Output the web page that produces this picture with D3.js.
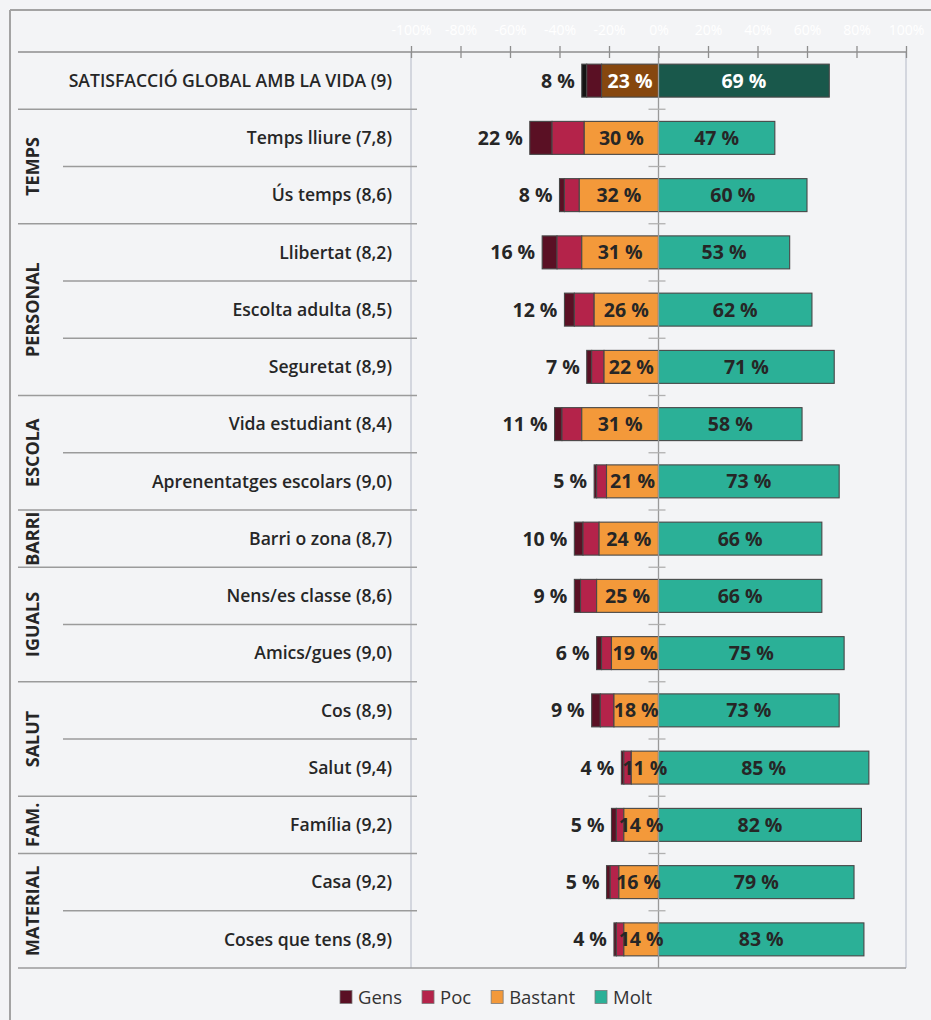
<!DOCTYPE html>
<html>
<head>
<meta charset="utf-8">
<script src="https://cdn.jsdelivr.net/npm/d3@7"></script>
<style>
  html, body { margin: 0; padding: 0; background: #f3f4f6; }
  svg { display: block; font-family: "Open Sans", sans-serif; }
</style>
</head>
<body>
<svg id="chart" width="931" height="1020"></svg>
<script>
// Row labels (mean score in brackets)
const items = [
  "SATISFACCIÓ GLOBAL AMB LA VIDA (9)",
  "Temps lliure (7,8)",
  "Ús temps (8,6)",
  "Llibertat (8,2)",
  "Escolta adulta (8,5)",
  "Seguretat (8,9)",
  "Vida estudiant (8,4)",
  "Aprenentatges escolars (9,0)",
  "Barri o zona (8,7)",
  "Nens/es classe (8,6)",
  "Amics/gues (9,0)",
  "Cos (8,9)",
  "Salut (9,4)",
  "Família (9,2)",
  "Casa (9,2)",
  "Coses que tens (8,9)"
];

// Share of answers per level (%)
const gens    = [2, 9, 2, 6, 4, 2, 3, 1, 3.5, 2.5, 2, 3.5, 1, 2, 1.5, 1];
const poc     = [6, 13, 6, 10, 8, 5, 8, 4, 6.5, 6.5, 4, 5.5, 3, 3, 3.5, 3];
const bastant = [23, 30, 32, 31, 26, 22, 31, 21, 24, 25, 19, 18, 11, 14, 16, 14];
const molt    = [69, 47, 60, 53, 62, 71, 58, 73, 66, 66, 75, 73, 85, 82, 79, 83];

// Domain groups: name, first row index, last row index
const groupNames = ["TEMPS", "PERSONAL", "ESCOLA", "BARRI", "IGUALS", "SALUT", "FAM.", "MATERIAL"];
const groupStart = [1, 3, 6, 8, 9, 11, 13, 14];
const groupEnd   = [2, 5, 7, 8, 10, 12, 13, 15];

const levels = ["Gens", "Poc", "Bastant", "Molt"];
const colors = ["#5a1024", "#b4234a", "#f3993a", "#2bb097"];
const colorsGlobal = ["#141414", "#5a1024", "#86470f", "#19584b"];

const tickValues = [-100, -80, -60, -40, -20, 0, 20, 40, 60, 80, 100];

const svg = d3.select("#chart");
const W = 931, H = 1020;

const x = d3.scaleLinear().domain([-100, 100]).range([411, 906]);
const y = d3.scaleBand().domain(d3.range(items.length)).range([52, 968])
  .paddingInner(0.424).paddingOuter(0.212);

const step = y.step();
const y0 = y.range()[0];
const boundary = i => y0 + i * step;

const ink = "#262626";
const lineGray = "#9b9b9b";

// Outer frame (left and top edges)
svg.append("line").attr("x1", 10).attr("x2", 10).attr("y1", 10).attr("y2", H)
  .attr("stroke", "#a3a3a3").attr("stroke-width", 2);
svg.append("line").attr("x1", 10).attr("x2", W).attr("y1", 10).attr("y2", 10)
  .attr("stroke", "#a3a3a3").attr("stroke-width", 2);

// Plot area side edges at -100% and 100%
[-100, 100].forEach(v => {
  svg.append("line").attr("x1", x(v)).attr("x2", x(v))
    .attr("y1", boundary(0)).attr("y2", boundary(items.length))
    .attr("stroke", "#c9cdd6").attr("stroke-width", 1.5);
});

// Row dividers in the label column
const groupStarts = new Set([0, 1, ...groupStart]);
for (let i = 1; i < items.length; i++) {
  svg.append("line")
    .attr("x1", groupStarts.has(i) ? 18 : 63).attr("x2", 417)
    .attr("y1", boundary(i)).attr("y2", boundary(i))
    .attr("stroke", lineGray).attr("stroke-width", 1.3);
}
// bottom line
svg.append("line").attr("x1", 18).attr("x2", x(100))
  .attr("y1", boundary(items.length)).attr("y2", boundary(items.length))
  .attr("stroke", lineGray).attr("stroke-width", 1.3);

// Top axis
const axisG = svg.append("g").attr("transform", `translate(0,${y0})`)
  .call(d3.axisTop(x).tickValues(tickValues).tickFormat(d => d + "%").tickSizeOuter(0));
axisG.select(".domain").remove();
axisG.selectAll(".tick line").attr("y1", -6).attr("y2", 6)
  .attr("stroke", "#8e8e8e").attr("stroke-width", 1.3);
axisG.selectAll(".tick text").attr("y", -22).attr("dy", "0.35em")
  .attr("fill", "#ffffff").attr("font-size", 14).attr("font-family", "Open Sans, sans-serif");
svg.append("line").attr("x1", 18).attr("x2", x(100)).attr("y1", y0).attr("y2", y0)
  .attr("stroke", "#8e8e8e").attr("stroke-width", 1.3);

// Row labels
svg.append("g").selectAll("text").data(items).join("text")
  .attr("x", 392).attr("y", (d, i) => y(i) + y.bandwidth() / 2)
  .attr("dy", "0.36em").attr("text-anchor", "end")
  .attr("font-size", 17.6).attr("font-weight", 600).attr("fill", ink)
  .text(d => d);

// Group labels (rotated)
svg.append("g").selectAll("text").data(groupNames).join("text")
  .attr("transform", (d, k) => {
    const cy = (boundary(groupStart[k]) + boundary(groupEnd[k] + 1)) / 2;
    return `translate(33,${cy}) rotate(-90)`;
  })
  .attr("dy", "0.36em").attr("text-anchor", "middle")
  .attr("font-size", 18).attr("font-weight", 700).attr("fill", ink)
  .text(d => d);

// Stacked diverging bars
const rows = items.map((name, i) => {
  const b = bastant[i], p = poc[i], g = gens[i], m = molt[i];
  return {
    i,
    segs: [
      { k: 0, a: -(b + p + g), z: -(b + p) },
      { k: 1, a: -(b + p), z: -b },
      { k: 2, a: -b, z: 0 },
      { k: 3, a: 0, z: m }
    ]
  };
});

const barG = svg.append("g");
rows.forEach(r => {
  barG.selectAll(null).data(r.segs).join("rect")
    .attr("x", s => x(s.a)).attr("width", s => x(s.z) - x(s.a))
    .attr("y", y(r.i)).attr("height", y.bandwidth())
    .attr("fill", s => (r.i === 0 ? colorsGlobal : colors)[s.k])
    .attr("stroke", "#474747").attr("stroke-width", 1.1);
});

// Zero axis with band-boundary ticks
svg.append("line").attr("x1", x(0)).attr("x2", x(0))
  .attr("y1", boundary(0)).attr("y2", boundary(items.length))
  .attr("stroke", "#999999").attr("stroke-width", 1.3);
for (let i = 1; i < items.length; i++) {
  svg.append("line").attr("x1", x(0) - 10).attr("x2", x(0) + 7)
    .attr("y1", boundary(i)).attr("y2", boundary(i))
    .attr("stroke", "#b0b0b0").attr("stroke-width", 1.3);
}

// Value labels
const labG = svg.append("g").attr("font-size", 19.5).attr("font-weight", 700);
items.forEach((d, i) => {
  const cy = y(i) + y.bandwidth() / 2;
  const neg = gens[i] + poc[i];
  labG.append("text").attr("x", x(-(bastant[i] + neg)) - 7).attr("y", cy)
    .attr("dy", "0.36em").attr("text-anchor", "end").attr("fill", ink)
    .text(`${Math.round(neg)} %`);
  labG.append("text").attr("x", x(-bastant[i] / 2)).attr("y", cy)
    .attr("dy", "0.36em").attr("text-anchor", "middle")
    .attr("fill", i === 0 ? "#ffffff" : ink)
    .text(`${bastant[i]} %`);
  labG.append("text").attr("x", x(molt[i] / 2)).attr("y", cy)
    .attr("dy", "0.36em").attr("text-anchor", "middle")
    .attr("fill", i === 0 ? "#ffffff" : ink)
    .text(`${molt[i]} %`);
});

// Legend
const legend = svg.append("g").attr("transform", "translate(0,997)");
let lx = 340;
levels.forEach((name, k) => {
  legend.append("rect").attr("x", lx).attr("y", -6.5).attr("width", 12).attr("height", 13)
    .attr("fill", colors[k]).attr("stroke", "#7a7a7a").attr("stroke-width", 0.8);
  const t = legend.append("text").attr("x", lx + 18).attr("y", 0).attr("dy", "0.36em")
    .attr("font-size", 18.5).attr("fill", "#333333").text(name);
  lx += 18 + t.node().getComputedTextLength() + 20;
});
</script>
</body>
</html>
